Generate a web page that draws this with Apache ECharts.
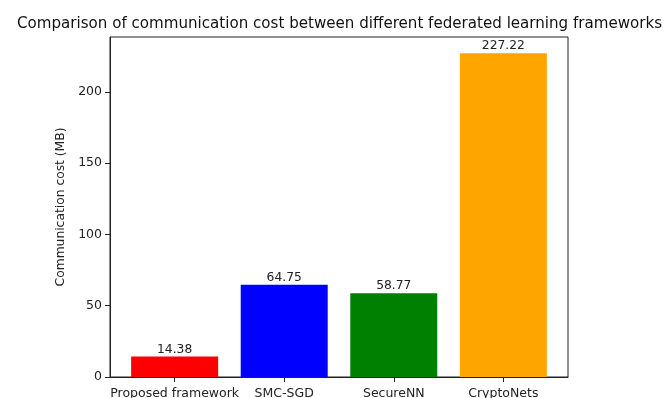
<!DOCTYPE html>
<html>
<head>
<meta charset="utf-8">
<script src="https://cdn.jsdelivr.net/npm/echarts@6/dist/echarts.min.js"></script>
<style>
  html, body { margin: 0; padding: 0; background: #fff; }
  #chart { width: 670px; height: 398px; }
</style>
</head>
<body>
<div id="chart"></div>
<script>
// 各框架的通信开销 (MB)
const frameworks = ['Proposed framework', 'SMC-SGD', 'SecureNN', 'CryptoNets']
const costs = [14.38, 64.75, 58.77, 227.22]
const barColors = ['#ff0000', '#0000ff', '#008000', '#ffa500']
const yTicks = [0, 50, 100, 150, 200]

const font = 'DejaVu Sans'
const chart = echarts.init(document.getElementById('chart'))

const option = {
  animation: false,
  title: {
    text: 'Comparison of communication cost between different federated learning frameworks',
    left: 12,
    top: 12,
    textStyle: { fontFamily: font, fontSize: 15.1, fontWeight: 'normal', color: '#111' }
  },
  grid: {
    left: 110,
    right: 102,
    top: 37,
    bottom: 21,
    outerBoundsMode: 'none',
    show: true,
    borderColor: '#222',
    borderWidth: 1
  },
  xAxis: {
    type: 'value',
    min: -0.59,
    max: 3.59,
    splitLine: { show: false },
    axisLine: { show: true, onZero: false, lineStyle: { color: '#222' } },
    axisTick: { show: true, customValues: [0, 1, 2, 3], length: 5, lineStyle: { color: '#222' } },
    axisLabel: {
      customValues: [0, 1, 2, 3],
      formatter: v => frameworks[Math.round(v)],
      fontFamily: font,
      fontSize: 12.5,
      color: '#222',
      margin: 10
    }
  },
  yAxis: {
    type: 'value',
    min: 0,
    max: 238.58,
    name: 'Communication cost (MB)',
    nameLocation: 'middle',
    nameGap: 39,
    nameTextStyle: { fontFamily: font, fontSize: 12.3, color: '#222' },
    splitLine: { show: false },
    axisLine: { show: true, onZero: false, lineStyle: { color: '#222' } },
    axisTick: { show: true, customValues: yTicks, length: 5, lineStyle: { color: '#222' } },
    axisLabel: {
      customValues: yTicks,
      fontFamily: font,
      fontSize: 12.5,
      color: '#222',
      margin: 8
    }
  },
  series: [
    {
      type: 'bar',
      barWidth: 87,
      data: costs.map((c, i) => ({
        value: [i, c],
        itemStyle: { color: barColors[i] }
      })),
      label: {
        show: true,
        position: 'top',
        distance: 1,
        formatter: p => p.value[1].toFixed(2),
        fontFamily: font,
        fontSize: 12.3,
        color: '#222'
      }
    }
  ]
}

chart.setOption(option)
</script>
</body>
</html>
